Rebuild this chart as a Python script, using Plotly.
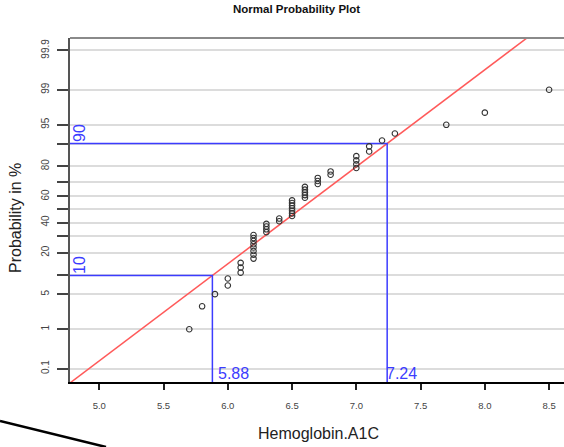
import plotly.graph_objects as go
from statistics import NormalDist

# ---- data ----
a1c_values = [5.7, 5.8, 5.9, 6.0, 6.1, 6.2, 6.3, 6.4, 6.5, 6.6, 6.7, 6.8, 7.0, 7.1, 7.2, 7.3, 7.7, 8.0, 8.5]
a1c_counts = [1, 1, 1, 2, 3, 8, 4, 2, 7, 5, 3, 2, 4, 2, 1, 1, 1, 1, 1]
prob_ticks = [0.1, 1, 5, 10, 20, 30, 40, 50, 60, 70, 80, 90, 95, 99, 99.9]
prob_labels = ["0.1", "1", "5", "", "20", "", "40", "", "60", "", "80", "", "95", "99", "99.9"]
x_ticks = [5.0, 5.5, 6.0, 6.5, 7.0, 7.5, 8.0, 8.5]
ref_probs = [10, 90]
ref_quantiles = [5.88, 7.24]

N = NormalDist()
sample = []
for v, c in zip(a1c_values, a1c_counts):
    sample += [v] * c
sample.sort()
n = len(sample)
pp = [(i + 0.5) / n for i in range(n)]
zpts = [N.inv_cdf(p) for p in pp]

ztick = [N.inv_cdf(p / 100) for p in prob_ticks]
z10, z90 = [N.inv_cdf(p / 100) for p in ref_probs]
q10, q90 = ref_quantiles

XR = [4.772, 8.616]
YR = [-3.351, 3.331]

slope = (q90 - q10) / (z90 - z10)
zl = [-4.0, 4.0]
xl = [q10 + (z - z10) * slope for z in zl]

blue = "rgb(60,60,255)"
fig = go.Figure()
# fitted line
fig.add_trace(go.Scatter(x=xl, y=zl, mode="lines", line=dict(color="rgb(255,90,90)", width=1.5),
                         hoverinfo="skip"))
# reference lines
for q, z in zip(ref_quantiles, [z10, z90]):
    fig.add_trace(go.Scatter(x=[XR[0], q, q], y=[z, z, YR[0]], mode="lines",
                             line=dict(color=blue, width=1.5), hoverinfo="skip"))
# points
fig.add_trace(go.Scatter(x=sample, y=zpts, mode="markers",
                         marker=dict(symbol="circle-open", size=5.5, color="#333333",
                                     line=dict(width=1.1, color="#333333"))))

fnt = "Liberation Sans, Arial, Helvetica, sans-serif"
ann = []
for p, z in zip(ref_probs, [z10, z90]):
    ann.append(dict(text=str(p), x=0, xref="paper", y=z, yref="y", xanchor="left", yanchor="bottom",
                    textangle=-90, showarrow=False, font=dict(family=fnt, size=16, color=blue),
                    xshift=-1, yshift=-1))
ann.append(dict(text=f"{q10:.2f}", x=q10, y=YR[0], xref="x", yref="y", xanchor="left", yanchor="bottom",
                showarrow=False, font=dict(family=fnt, size=16, color=blue), xshift=4, yshift=-2))
ann.append(dict(text=f"{q90:.2f}", x=q90, y=YR[0], xref="x", yref="y", xanchor="left", yanchor="bottom",
                showarrow=False, font=dict(family=fnt, size=16, color=blue), xshift=-3, yshift=-2))
ann.append(dict(text="Hemoglobin.A1C", x=318, xref="paper", y=0, yref="paper", showarrow=False,
                font=dict(family=fnt, size=16, color="#222")))
ann.append(dict(text="Probability in %", textangle=-90, showarrow=False,
                font=dict(family=fnt, size=16, color="#222")))
ann.append(dict(text="<b>Normal Probability Plot</b>", showarrow=False,
                font=dict(family=fnt, size=11.5, color="#111")))

W, H = 564, 447
L, R, T, B = 70, 0, 38, 65
pw, ph = W - L - R, H - T - B


def px(xp):
    return (xp - L) / pw


def py(yp):
    return (H - B - yp) / ph


ann[-3].update(x=px(318), y=py(433), xref="paper", yref="paper", xanchor="center", yanchor="middle")
ann[-2].update(x=px(15), y=py(218), xref="paper", yref="paper", xanchor="center", yanchor="middle")
ann[-1].update(x=px(296), y=py(9), xref="paper", yref="paper", xanchor="center", yanchor="middle")

shapes = [
    dict(type="line", xref="paper", yref="paper", x0=0, x1=1, y0=1, y1=1,
         line=dict(color="#8a8a8a", width=2)),
    dict(type="line", xref="paper", yref="paper", x0=px(0), y0=py(421), x1=px(106), y1=py(447),
         line=dict(color="black", width=2.5)),
]

fig.update_layout(
    width=W, height=H, margin=dict(l=L, r=R, t=T, b=B),
    paper_bgcolor="white", plot_bgcolor="white", showlegend=False,
    annotations=ann, shapes=shapes,
    xaxis=dict(range=XR, tickvals=x_ticks, ticktext=[f"{v:.1f}" for v in x_ticks],
               showgrid=False, zeroline=False, showline=True, linecolor="black", linewidth=2,
               ticks="outside", ticklen=6, tickwidth=1.5, tickcolor="#222",
               tickfont=dict(family=fnt, size=9.5, color="#444"), ticklabelstandoff=8),
    yaxis=dict(range=YR, tickvals=ztick, ticktext=prob_labels, tickangle=-90,
               showgrid=True, gridcolor="#dcdcdc", gridwidth=2, zeroline=False,
               showline=True, linecolor="#555", linewidth=2,
               ticks="outside", ticklen=11, tickwidth=1.5, tickcolor="#444",
               tickfont=dict(family=fnt, size=10, color="#444"), ticklabelstandoff=4),
)

fig.write_html("out.html")
